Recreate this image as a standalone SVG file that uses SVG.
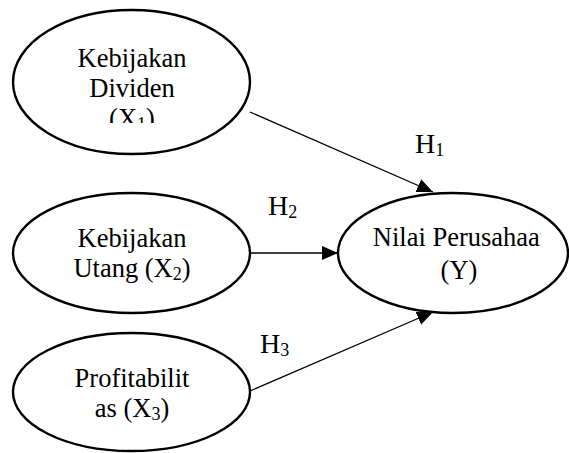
<svg xmlns="http://www.w3.org/2000/svg" width="569" height="453" viewBox="0 0 569 453">
<style>
.node{fill:#fff;stroke:#000;stroke-width:2.4}
.t{font-family:"Liberation Serif","Times New Roman",serif;font-size:26.5px;fill:#000;text-anchor:middle}
.h{font-family:"Liberation Serif","Times New Roman",serif;font-size:28px;fill:#000}
.sub{font-size:18px}
.conn{stroke:#000;stroke-width:1.3;fill:none}
</style>
<defs>
<marker id="arr" markerWidth="16" markerHeight="14" refX="16" refY="7" orient="auto" markerUnits="userSpaceOnUse">
<path d="M0,0 L16,7 L0,14 Z" fill="#000"/>
</marker>
<clipPath id="c1"><rect x="0" y="0" width="569" height="123"/></clipPath>
<clipPath id="cy"><rect x="0" y="0" width="541" height="453"/></clipPath>
</defs>
<g id="connectors">
<line class="conn" x1="250" y1="112" x2="433" y2="192" marker-end="url(#arr)"/>
<line class="conn" x1="250" y1="253" x2="338" y2="253" marker-end="url(#arr)"/>
<line class="conn" x1="250" y1="391" x2="433" y2="312" marker-end="url(#arr)"/>
</g>
<g id="x1">
<ellipse class="node" cx="131.5" cy="82" rx="118.5" ry="72"/>
<g clip-path="url(#c1)">
<text class="t" x="132" y="67">Kebijakan</text>
<text class="t" x="132" y="97">Dividen</text>
<text class="t" x="132" y="127">(X<tspan class="sub" dy="3">1</tspan><tspan dy="-3">)</tspan></text>
</g>
</g>
<g id="x2">
<ellipse class="node" cx="131.5" cy="253" rx="118.5" ry="60"/>
<text class="t" x="132" y="247">Kebijakan</text>
<text class="t" x="132" y="277">Utang (X<tspan class="sub" dy="3">2</tspan><tspan dy="-3">)</tspan></text>
</g>
<g id="x3">
<ellipse class="node" cx="131.5" cy="392" rx="118.5" ry="59"/>
<text class="t" x="132" y="387">Profitabilit</text>
<text class="t" x="132" y="417">as (X<tspan class="sub" dy="3">3</tspan><tspan dy="-3">)</tspan></text>
</g>
<g id="y">
<ellipse class="node" cx="453" cy="253" rx="115" ry="60"/>
<g clip-path="url(#cy)">
<text class="t" x="463" y="246">Nilai Perusahaan</text>
</g>
<text class="t" x="459" y="279">(Y)</text>
</g>
<g id="labels">
<text class="h" x="415" y="153">H<tspan class="sub" dy="3">1</tspan></text>
<text class="h" x="268" y="215">H<tspan class="sub" dy="3">2</tspan></text>
<text class="h" x="260" y="353">H<tspan class="sub" dy="3">3</tspan></text>
</g>
</svg>
